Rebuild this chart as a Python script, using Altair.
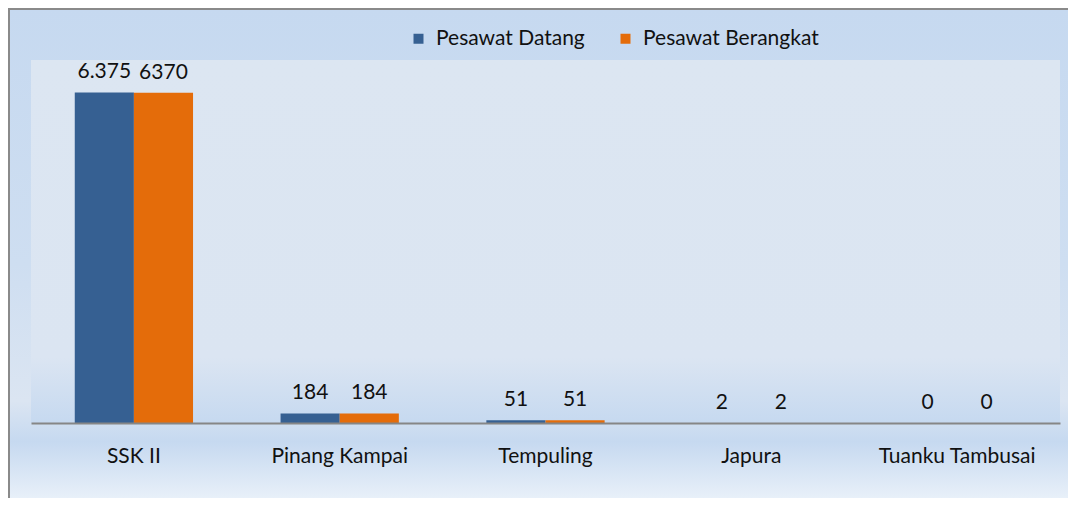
import altair as alt
import pandas as pd

categories = ["SSK II", "Pinang Kampai", "Tempuling", "Japura", "Tuanku Tambusai"]
series = ["Pesawat Datang", "Pesawat Berangkat"]
datang = [6375, 184, 51, 2, 0]
berangkat = [6370, 184, 51, 2, 0]
label_datang = ["6.375", "184", "51", "2", "0"]
label_berangkat = ["6370", "184", "51", "2", "0"]
colors = ["#366092", "#E46C0A"]

rows = []
for i, c in enumerate(categories):
    rows.append({"kategori": c, "seri": series[0], "nilai": datang[i], "label": label_datang[i]})
    rows.append({"kategori": c, "seri": series[1], "nilai": berangkat[i], "label": label_berangkat[i]})
df = pd.DataFrame(rows)

FONT = "Lato"
FS = 21
W, H = 1029, 363
PL, PT, PR, PB = 23, 52, 8, 75

one = alt.Data(values=[{}])

outer_bg = alt.Chart(one).mark_rect(
    color=alt.LinearGradient(
        gradient="linear", x1=0, x2=0, y1=0, y2=1,
        stops=[
            alt.GradientStop(color="#c6d9f0", offset=0),
            alt.GradientStop(color="#cedef1", offset=0.5),
            alt.GradientStop(color="#dbe5f2", offset=0.77),
            alt.GradientStop(color="#c6d9f0", offset=0.85),
            alt.GradientStop(color="#f4f8fc", offset=1),
        ],
    ),
    stroke="#8a8a8a", strokeWidth=2,
).encode(
    x=alt.value(-PL + 1), x2=alt.value(W + PR + 20),
    y=alt.value(-PT + 1), y2=alt.value(H + PB + 20),
)

plot_bg = alt.Chart(one).mark_rect(
    color=alt.LinearGradient(
        gradient="linear", x1=0, x2=0, y1=0, y2=1,
        stops=[
            alt.GradientStop(color="#dce6f2", offset=0),
            alt.GradientStop(color="#dbe5f2", offset=0.82),
            alt.GradientStop(color="#c6d9f0", offset=1),
        ],
    ),
).encode(x=alt.value(0), x2=alt.value(W), y=alt.value(0), y2=alt.value(H))

x_enc = alt.X(
    "kategori:N", sort=categories,
    scale=alt.Scale(paddingInner=0, paddingOuter=0),
    axis=alt.Axis(
        title=None, labelAngle=0, ticks=False, grid=False,
        domainColor="#868686", domainWidth=2, zindex=1,
        labelFont=FONT, labelFontSize=FS, labelColor="#111111", labelPadding=22,
    ),
)
xo_enc = alt.XOffset("seri:N", sort=series, scale=alt.Scale(paddingInner=0, paddingOuter=0.74))
y_enc = alt.Y("nilai:Q", scale=alt.Scale(domain=[0, 7000]), axis=None)

bars = alt.Chart(df).mark_bar().encode(
    x=x_enc, xOffset=xo_enc, y=y_enc,
    color=alt.Color(
        "seri:N", sort=series,
        scale=alt.Scale(domain=series, range=colors),
        legend=alt.Legend(
            title=None, orient="none", direction="horizontal",
            legendX=377, legendY=-32,
            symbolType="square", symbolSize=100, symbolStrokeWidth=0,
            labelFont=FONT, labelFontSize=FS, labelColor="#111111",
            labelOffset=7, columnPadding=30, labelLimit=400,
        ),
    ),
)

texts = alt.Chart(df).mark_text(
    baseline="bottom", dy=-10, font=FONT, fontSize=FS, color="#111111"
).encode(x=x_enc, xOffset=xo_enc, y=y_enc, text="label:N")

chart = alt.layer(outer_bg, plot_bg, bars, texts).properties(
    width=W, height=H,
    autosize=alt.AutoSizeParams(type="none"),
    padding={"left": PL, "top": PT, "right": PR, "bottom": PB},
).configure_view(stroke=None)

chart.save("out.html", embed_options={"renderer": "svg", "actions": False})
